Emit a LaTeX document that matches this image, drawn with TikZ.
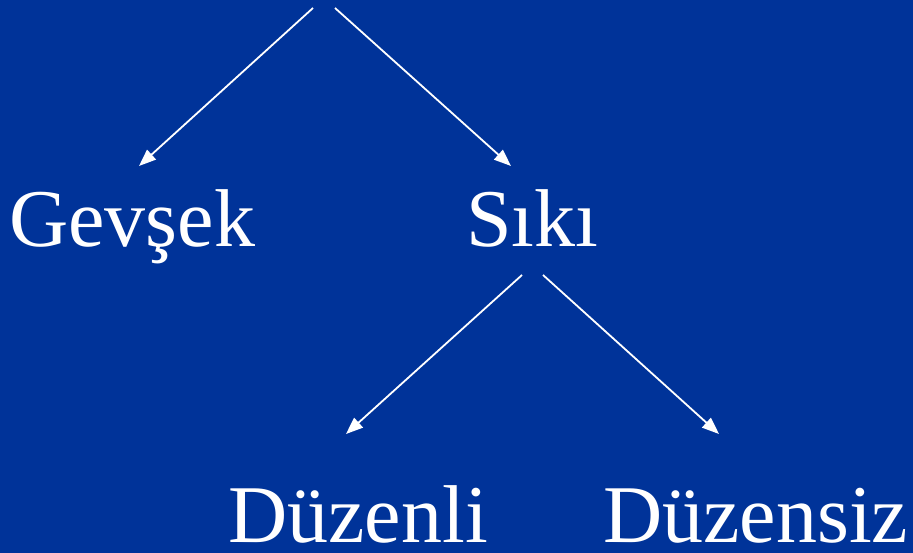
\documentclass[tikz,border=0pt]{standalone}
\usepackage{fontspec}
\setmainfont{Liberation Serif}
\usetikzlibrary{arrows.meta}
\definecolor{slideblue}{HTML}{003399}
\begin{document}
\begin{tikzpicture}[x=1pt,y=-1pt,
  label/.style={anchor=base west,inner sep=0pt,text=white,font=\fontsize{82}{90}\selectfont},
  link/.style={draw=white,line width=1.8pt,-{Triangle[length=17pt,width=13pt]}}]
  \fill[slideblue] (0,0) rectangle (913,553);
  \useasboundingbox (0,0) rectangle (913,553);
  % labels
  \node[label] (gev) at (9,247) {Gevşek};
  \node[label] (siki) at (466,247) {Sıkı};
  \node[label] (duz) at (228,542) {Düzenli};
  \node[label] (duzs) at (603,542) {Düzensiz};
  % arrow ends
  \coordinate (topL) at (313,8);
  \coordinate (topR) at (335,8);
  \coordinate (gevT) at (139,166);
  \coordinate (sikiT) at (511,166);
  \coordinate (sikiL) at (522,275);
  \coordinate (sikiR) at (543,275);
  \coordinate (duzT) at (346,434);
  \coordinate (duzsT) at (719,434);
  \draw[link] (topL) -- (gevT);
  \draw[link] (topR) -- (sikiT);
  \draw[link] (sikiL) -- (duzT);
  \draw[link] (sikiR) -- (duzsT);
\end{tikzpicture}
\end{document}
